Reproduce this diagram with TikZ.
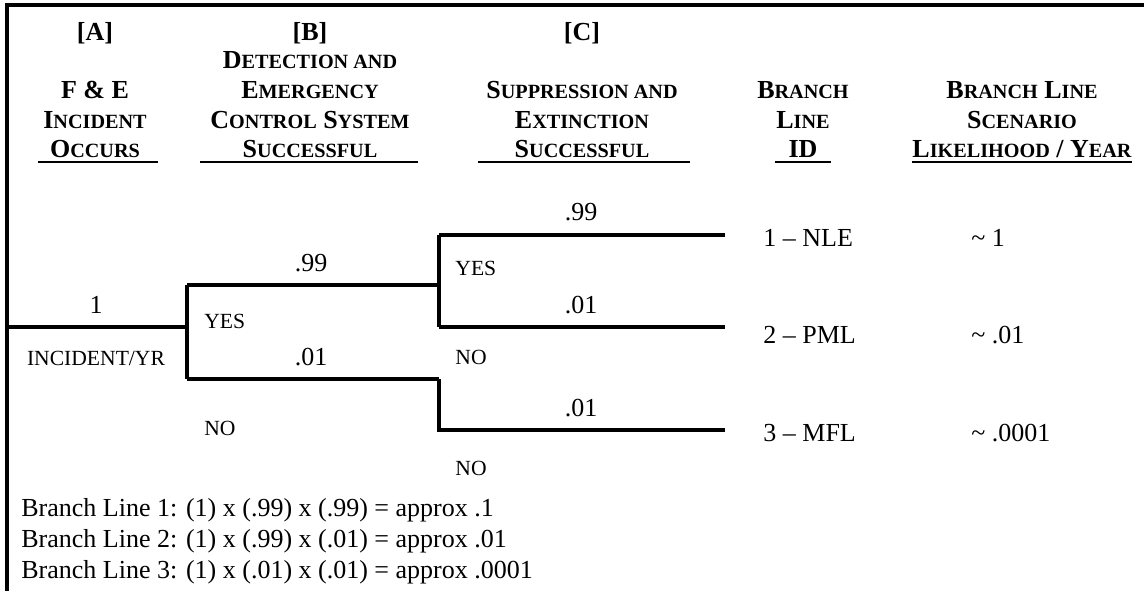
\documentclass[tikz,border=0pt]{standalone}
\usepackage{fontspec}
\setmainfont{Liberation Serif}
% small capitals built from reduced upper-case letters
\newcommand\lowcaps[1]{{\fontsize{10.1}{11}\selectfont #1}}
\begin{document}
\begin{tikzpicture}[x=0.5pt,y=-0.5pt,
  hdr/.style={font=\fontsize{13}{15}\selectfont\bfseries, inner sep=0pt, anchor=base},
  txt/.style={font=\fontsize{13}{15}\selectfont, inner sep=0pt},
  small/.style={font=\fontsize{10.8}{12}\selectfont, inner sep=0pt},
  branch/.style={line width=1.6pt},
  frameline/.style={line width=1.7pt},
  hrule/.style={line width=0.75pt}]
\useasboundingbox (0,0) rectangle (1144,591);

% outer frame (top and left edges)
\draw[frameline] (1144,5) -- (7,5) -- (7,591);

% column headings
\node[hdr] (hA) at (95,40) {[A]};
\node[hdr] (hB) at (310,40) {[B]};
\node[hdr] (hC) at (582,40) {[C]};

\node[hdr] (a1) at (95,98) {F \& E};
\node[hdr] (a2) at (95,128) {I\lowcaps{NCIDENT}};
\node[hdr] (a3) at (95,157) {O\lowcaps{CCURS}};

\node[hdr] (b0) at (310,68) {D\lowcaps{ETECTION AND}};
\node[hdr] (b1) at (310,98) {E\lowcaps{MERGENCY}};
\node[hdr] (b2) at (310,128) {C\lowcaps{ONTROL} S\lowcaps{YSTEM}};
\node[hdr] (b3) at (310,157) {S\lowcaps{UCCESSFUL}};

\node[hdr] (c1) at (582,98) {S\lowcaps{UPPRESSION AND}};
\node[hdr] (c2) at (582,128) {E\lowcaps{XTINCTION}};
\node[hdr] (c3) at (582,157) {S\lowcaps{UCCESSFUL}};

\node[hdr] (d1) at (803,98) {B\lowcaps{RANCH}};
\node[hdr] (d2) at (803,128) {L\lowcaps{INE}};
\node[hdr] (d3) at (803,157) {ID};

\node[hdr] (e1) at (1022,98) {B\lowcaps{RANCH} L\lowcaps{INE}};
\node[hdr] (e2) at (1022,128) {S\lowcaps{CENARIO}};
\node[hdr] (e3) at (1022,157) {L\lowcaps{IKELIHOOD} / Y\lowcaps{EAR}};

% heading underlines
\draw[hrule] (38,162) -- (158,162);
\draw[hrule] (200,162) -- (418,162);
\draw[hrule] (478,162) -- (690,162);
\draw[hrule] (775,162) -- (831,162);
\draw[hrule] (e3.west |- 0,162) -- (e3.east |- 0,162);

% event tree junctions and ends
\coordinate (start) at (7,327);
\coordinate (bsplit) at (187,327);
\coordinate (bup) at (187,285);
\coordinate (blo) at (187,379);
\coordinate (csplit) at (439,285);
\coordinate (cup) at (439,235);
\coordinate (clo) at (439,327);
\coordinate (dsplit) at (439,379);
\coordinate (dlo) at (439,430);
\coordinate (end1) at (725,235);
\coordinate (end2) at (725,327);
\coordinate (end3) at (725,430);

\draw[branch] (start) -- (bsplit);
\draw[branch] (bup) -- (blo);
\draw[branch] (bup) -- (csplit);
\draw[branch] (blo) -- (dsplit);
\draw[branch] (cup) -- (clo);
\draw[branch] (cup) -- (end1);
\draw[branch] (clo) -- (end2);
\draw[branch] (dsplit) -- (dlo) -- (end3);

% branch probabilities and outcomes
\node[txt] (pA) at (96,305) {1};
\node[small] (uA) at (96,358) {INCIDENT/YR};

\node[txt] (pB1) at (311,263) {.99};
\node[txt] (pB2) at (311,357) {.01};
\node[small, anchor=west] (yB) at (204,321) {YES};
\node[small, anchor=west] (nB) at (204,428) {NO};

\node[txt] (pC1) at (581,212) {.99};
\node[txt] (pC2) at (581,305) {.01};
\node[txt] (pC3) at (581,408) {.01};
\node[small, anchor=west] (yC) at (455,268) {YES};
\node[small, anchor=west] (nC1) at (455,357) {NO};
\node[small, anchor=west] (nC2) at (455,468) {NO};

% branch line identifiers and likelihoods
\node[txt, anchor=west] (id1) at (763,238) {1 -- NLE};
\node[txt, anchor=west] (id2) at (763,335) {2 -- PML};
\node[txt, anchor=west] (id3) at (763,433) {3 -- MFL};
\node[txt, anchor=west] (lk1) at (971,238) {\textasciitilde\ 1};
\node[txt, anchor=west] (lk2) at (971,335) {\textasciitilde\ .01};
\node[txt, anchor=west] (lk3) at (971,433) {\textasciitilde\ .0001};

% worked products
\node[txt, anchor=west] (f1) at (21,510) {Branch Line 1: (1) x (.99) x (.99) = approx .1};
\node[txt, anchor=west] (f2) at (21,541) {Branch Line 2: (1) x (.99) x (.01) = approx .01};
\node[txt, anchor=west] (f3) at (21,572) {Branch Line 3: (1) x (.01) x (.01) = approx .0001};
\end{tikzpicture}
\end{document}
